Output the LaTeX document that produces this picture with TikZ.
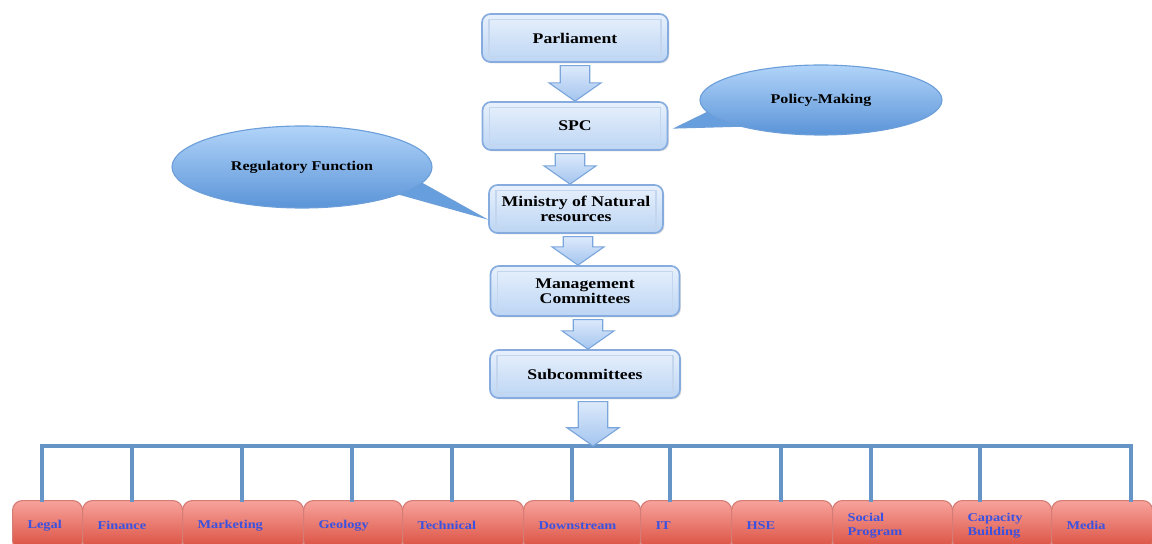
\documentclass[tikz,border=0pt]{standalone}
\usepackage{fontspec}
\setmainfont{Liberation Serif}[FakeStretch=1.2]
\usetikzlibrary{calc,shadows,shapes.geometric}

\definecolor{stagetop}{HTML}{E8F1FC}
\definecolor{stagebot}{HTML}{BCD5F4}
\definecolor{stageline}{HTML}{86ACDF}
\definecolor{stageinner}{HTML}{C3D6EE}
\definecolor{bubtop}{HTML}{B2D4F9}
\definecolor{bubbot}{HTML}{5A94D8}
\definecolor{bubline}{HTML}{6C9FD9}
\definecolor{arrtop}{HTML}{DCE9FB}
\definecolor{arrbot}{HTML}{A4C5EF}
\definecolor{arrline}{HTML}{7BA6DC}
\definecolor{busblue}{HTML}{6794C6}
\definecolor{unittop}{HTML}{F7A39C}
\definecolor{unitbot}{HTML}{D94C3C}
\definecolor{unitline}{HTML}{D47C75}
\definecolor{unittext}{HTML}{3B52E0}

\def\u{0.025cm}

\tikzset{
  stage/.style={draw=stageline, line width=1.2pt, rounded corners=6pt,
    top color=stagetop, bottom color=stagebot, align=center,
    drop shadow={opacity=0.25, shadow xshift=1pt, shadow yshift=-1pt},
    font=\bfseries\fontsize{10.5}{11}\selectfont,
    path picture={\draw[stageinner, line width=0.8pt, sharp corners]
      ([shift={(5pt,4pt)}]path picture bounding box.south west) rectangle
      ([shift={(-5pt,-4pt)}]path picture bounding box.north east);}},
  bubble/.style={ellipse, draw=bubline, line width=0.8pt,
    top color=bubtop, bottom color=bubbot, inner sep=0pt,
    font=\bfseries\fontsize{9.5}{11}\selectfont},
  bubbletail/.style={draw=bubline, line width=0.8pt, fill=bubbot!85!bubtop},
  flow/.style={draw=arrline, line width=0.8pt, top color=arrtop, bottom color=arrbot},
  busline/.style={draw=busblue, line width=2.6pt, line cap=rect},
  unit/.style={draw=unitline, line width=0.8pt, rounded corners=7pt,
    top color=unittop, bottom color=unitbot, text=unittext, align=left,
    inner xsep=15*\u, inner ysep=0pt, minimum height=50*\u,
    font=\bfseries\fontsize{8.5}{10}\selectfont}
}

% block arrow: from node, to node, x position (px)
\newcommand{\flowarrow}[3]{%
  \path[flow] let \p1=(#1.south), \p2=(#2.north), \p3=(#3,0) in
    (\x3-10.5pt,\y1-2pt) -- (\x3+10.5pt,\y1-2pt) -- (\x3+10.5pt,\y2+13pt)
    -- (\x3+18.5pt,\y2+13pt) -- (\x3,\y2) -- (\x3-18.5pt,\y2+13pt)
    -- (\x3-10.5pt,\y2+13pt) -- cycle;}

\begin{document}
\begin{tikzpicture}[x=\u, y=-\u]
\useasboundingbox (0,0) rectangle (1152,544);

% chain of bodies
\node[stage, minimum width=186*\u, minimum height=48*\u] (parl) at (575,38) {Parliament};
\node[stage, minimum width=185*\u, minimum height=48*\u] (spc) at (575,126) {SPC};
\node[stage, minimum width=174*\u, minimum height=48*\u] (ministry) at (576,209) {Ministry of Natural\\resources};
\node[stage, minimum width=189*\u, minimum height=50*\u] (mgmt) at (585,291) {Management\\Committees};
\node[stage, minimum width=190*\u, minimum height=48*\u] (sub) at (585,374) {Subcommittees};

% callouts
\coordinate (policyc) at (821,100);
\path[bubbletail] ([shift={(7,2)}]spc.east) -- ($(policyc)+(-109,10)$) -- ($(policyc)+(-73,26)$) -- cycle;
\node[bubble, minimum width=242*\u, minimum height=70*\u] (policy) at (policyc) {Policy-Making};

\coordinate (regc) at (302,167);
\path[bubbletail] ([shift={(-4,9)}]ministry.west) -- ($(regc)+(93,26)$) -- ($(regc)+(116,14)$) -- cycle;
\node[bubble, minimum width=260*\u, minimum height=82*\u] (reg) at (regc) {Regulatory Function};

% bottom row
\foreach \nm/\xl/\w/\txt in {legal/12/70/Legal, finance/82/100/Finance,
    marketing/182/121/Marketing, geology/303/99/Geology,
    technical/402/121/Technical, downstream/523/117/Downstream,
    it/640/91/IT, hse/731/101/HSE, social/832/120/{Social\\Program},
    capacity/952/99/{Capacity\\Building}, media/1051/101/Media}{
  \pgfmathsetmacro\bw{\w*0.025}
  \pgfmathsetmacro\tw{(\w-30)*0.025}
  \node[unit, minimum width=\bw cm, text width=\tw cm, anchor=north west] (\nm) at (\xl,500) {\txt};
}

% bus
\coordinate (busL) at (42,446);
\coordinate (busR) at (1131,446);
\coordinate (bus) at (593,446);
\draw[busline] (busL) -- (busR);
\foreach \nm/\dx in {legal/42, finance/132, marketing/242, geology/352,
    technical/452, downstream/572, it/670, hse/781, social/871,
    capacity/980, media/1131}
  \draw[busline] (\dx,0 |- busL) -- (\dx,0 |- \nm.north);

% arrows
\flowarrow{parl}{spc}{575}
\flowarrow{spc}{ministry}{570}
\flowarrow{ministry}{mgmt}{578}
\flowarrow{mgmt}{sub}{588}
\flowarrow{sub}{bus}{593}
\end{tikzpicture}
\end{document}
